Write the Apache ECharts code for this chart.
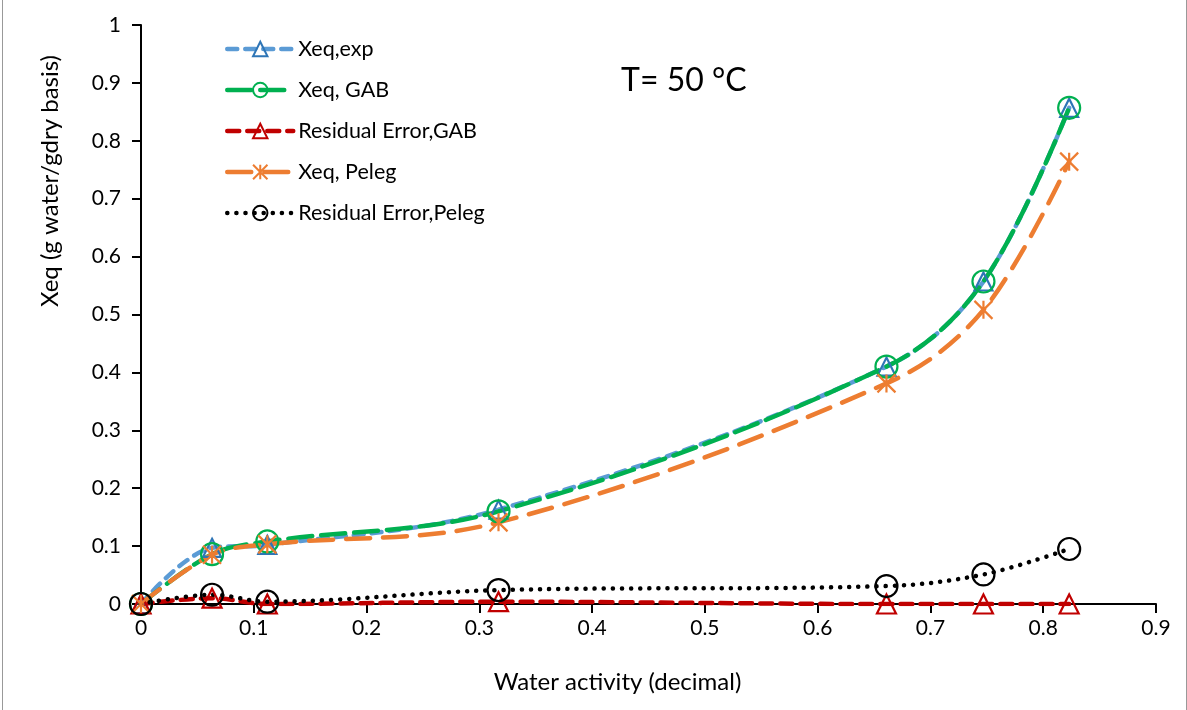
<!DOCTYPE html>
<html><head><meta charset="utf-8">
<script src="https://cdn.jsdelivr.net/npm/echarts@6/dist/echarts.min.js"></script>
<style>html,body{margin:0;padding:0;background:#fff}#c{width:1185px;height:710px;box-sizing:border-box;border-left:1px solid #999;border-right:1px solid #999;margin-left:2px}</style>
</head><body><div id="c"></div>
<script>
const aw = [0, 0.063, 0.112, 0.317, 0.661, 0.747, 0.823];
const xeqExp = [0, 0.097, 0.102, 0.163, 0.410, 0.557, 0.857];
const xeqGab = [0, 0.086, 0.108, 0.160, 0.410, 0.557, 0.857];
const resGab = [0, 0.010, 0.000, 0.004, 0.000, 0.000, 0.000];
const xeqPeleg = [0, 0.085, 0.103, 0.141, 0.381, 0.508, 0.764];
const resPeleg = [0, 0.016, 0.004, 0.024, 0.031, 0.051, 0.095];
const pair = v => aw.map((x, i) => [x, v[i]]);
const FONT = 'Lato';
const star = 'path://M0,-10L0,10M-10,-10L10,10M-10,10L10,-10';
function mk(name, data, lineColor, markColor, dash, symbol, size, width) {
  return {
    name, type: 'line', data: pair(data), smooth: 0.35, z: 2,
    symbol, symbolSize: size, showAllSymbol: true,
    lineStyle: { color: lineColor, width: width || 4.5, type: dash, cap: 'round' },
    itemStyle: { color: 'rgba(255,255,255,0)', borderColor: markColor, borderWidth: 2.2 }
  };
}
const chart = echarts.init(document.getElementById('c'));
chart.setOption({
  animation: false,
  textStyle: { fontFamily: FONT },
  title: { text: 'T= 50 °C', left: 613, top: 60, textStyle: { fontFamily: FONT, fontSize: 32, fontWeight: 'normal', color: '#000' } },
  graphic: [{
    type: 'text', left: 35, top: 55, rotation: Math.PI / 2, z: 10,
    style: { text: 'Xeq (g water/gdry basis)', font: '24px Lato', fill: '#000' }
  }],
  grid: { left: 138, right: 30, top: 25, bottom: 106 },
  legend: {
    left: 217, top: 33, orient: 'vertical', itemGap: 19, itemWidth: 66, itemHeight: 18,
    lineStyle: { width: 4.5 },
    textStyle: { fontFamily: FONT, fontSize: 21.5, color: '#000', lineHeight: 22 },
    data: ['Xeq,exp', 'Xeq, GAB', 'Residual Error,GAB', 'Xeq, Peleg', 'Residual Error,Peleg']
  },
  xAxis: {
    type: 'value', min: 0, max: 0.9, interval: 0.1,
    name: 'Water activity (decimal)', nameLocation: 'middle', nameGap: 66,
    nameTextStyle: { fontFamily: FONT, fontSize: 24, color: '#000', padding: [0, 62, 0, 0] },
    axisLine: { lineStyle: { color: '#000', width: 2 } },
    axisTick: { show: true, length: 9, lineStyle: { color: '#000', width: 2 } },
    axisLabel: { fontFamily: FONT, fontSize: 21, color: '#000', margin: 14, formatter: v => String(+v.toFixed(1)) },
    splitLine: { show: false }
  },
  yAxis: {
    type: 'value', min: 0, max: 1, interval: 0.1,
    axisLine: { show: true, lineStyle: { color: '#000', width: 2 } },
    axisTick: { show: true, length: 9, lineStyle: { color: '#000', width: 2 } },
    axisLabel: { fontFamily: FONT, fontSize: 21, color: '#000', margin: 20, formatter: v => String(+v.toFixed(1)) },
    splitLine: { show: false }
  },
  series: [
    mk('Xeq,exp', xeqExp, '#5b9bd5', '#2e75b6', [10, 8], 'triangle', 18),
    mk('Xeq, GAB', xeqGab, '#00b050', '#00b050', [24, 9], 'circle', 22),
    mk('Residual Error,GAB', resGab, '#c00000', '#c00000', [12, 8], 'triangle', 19),
    mk('Xeq, Peleg', xeqPeleg, '#ed7d31', '#ed7d31', [24, 13], star, 18),
    mk('Residual Error,Peleg', resPeleg, '#000000', '#000000', [0.1, 9], 'circle', 22)
  ]
});
</script></body></html>
